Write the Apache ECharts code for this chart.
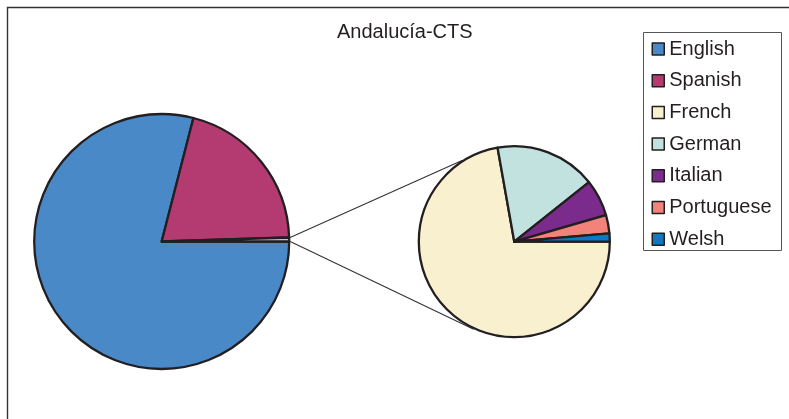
<!DOCTYPE html>
<html>
<head>
<meta charset="utf-8">
<script src="https://cdn.jsdelivr.net/npm/echarts@6/dist/echarts.min.js"></script>
<style>
html,body{margin:0;padding:0;background:#fff;}
#c{width:789px;height:419px;}
</style>
</head>
<body>
<div id="c"></div>
<script>
// ---- data (percent of all texts) ----
var titleText = 'Andalucía-CTS';
var mainNames = ['English', 'Spanish'];
var mainValues = [79.0, 20.5];
var otherNames = ['French', 'German', 'Italian', 'Portuguese', 'Welsh'];
var otherValues = [0.361, 0.0855, 0.031, 0.0155, 0.007];
var otherLabel = 'Other';

var mainColors = ['#4a89c8', '#b33b72'];
var otherSliceColor = '#b9c2e4';
var otherColors = ['#f9f0cf', '#c2e2df', '#7b2b8b', '#f3827a', '#0d7ac0'];

var FONT = 'Liberation Sans';
var INK = '#231f20';

var otherSum = otherValues.reduce(function (a, b) { return a + b; }, 0);

var mainData = mainNames.map(function (n, i) {
  return { name: n, value: mainValues[i], itemStyle: { color: mainColors[i] } };
});
mainData.push({ name: otherLabel, value: otherSum, itemStyle: { color: otherSliceColor } });

var secData = otherNames.map(function (n, i) {
  return { name: n, value: otherValues[i], itemStyle: { color: otherColors[i] } };
});

var chart = echarts.init(document.getElementById('c'), null, { renderer: 'canvas' });

var pieCommon = {
  type: 'pie',
  startAngle: 0,
  clockwise: true,
  avoidLabelOverlap: false,
  label: { show: false },
  labelLine: { show: false },
  emphasis: { disabled: true, scale: false },
  itemStyle: { borderColor: INK, borderWidth: 2.3 },
  animation: false,
  z: 5
};

chart.setOption({
  animation: false,
  textStyle: { fontFamily: FONT },
  title: {
    text: titleText,
    left: 337,
    top: 22,
    padding: 0,
    textStyle: { fontFamily: FONT, fontSize: 20, fontWeight: 'normal', color: INK, lineHeight: 20 }
  },
  legend: {
    data: mainNames.concat(otherNames),
    orient: 'vertical',
    left: 651.5,
    top: 39,
    padding: 0,
    itemWidth: 12,
    itemHeight: 12,
    itemGap: 11.7,
    icon: 'rect',
    selectedMode: false,
    itemStyle: { borderColor: INK, borderWidth: 1.5 },
    textStyle: { fontFamily: FONT, fontSize: 20, color: INK, lineHeight: 20 }
  },
  graphic: [
    { id: 'frame', type: 'rect', z: 0, silent: true,
      shape: { x: 7.5, y: 7.5, width: 900, height: 500 },
      style: { fill: 'none', stroke: '#333', lineWidth: 1.4 } },
    { id: 'legendBox', type: 'rect', z: 0, silent: true,
      shape: { x: 643.5, y: 32.5, width: 138, height: 218 },
      style: { fill: 'none', stroke: '#555', lineWidth: 1 } }
  ],
  series: [
    Object.assign({}, pieCommon, {
      name: 'main',
      center: [161.7, 241.5],
      radius: 127.5,
      data: mainData
    }),
    Object.assign({}, pieCommon, {
      name: 'secondary',
      center: [514.3, 241.7],
      radius: 95.5,
      data: secData
    })
  ]
});

// connector lines from the "Other" slice to the secondary pie, using the library's pie layout
(function () {
  var model = chart.getModel();
  var mainD = model.getSeriesByIndex(0).getData();
  var secD = model.getSeriesByIndex(1).getData();
  var oL = mainD.getItemLayout(mainData.length - 1);
  var sL = secD.getItemLayout(0);
  var rOut = oL.r + 1;
  var p1 = [oL.cx + rOut * Math.cos(oL.startAngle), oL.cy + rOut * Math.sin(oL.startAngle)];
  var p2 = [oL.cx + rOut * Math.cos(oL.endAngle), oL.cy + rOut * Math.sin(oL.endAngle)];
  var a1 = -122.8 * Math.PI / 180, a2 = 114.9 * Math.PI / 180;
  var sr = sL.r + 1;
  var q1 = [sL.cx + sr * Math.cos(a1), sL.cy + sr * Math.sin(a1)];
  var q2 = [sL.cx + sr * Math.cos(a2), sL.cy + sr * Math.sin(a2)];
  chart.setOption({
    graphic: [
      { id: 'conn1', type: 'line', z: 1, silent: true,
        shape: { x1: p1[0], y1: p1[1], x2: q1[0], y2: q1[1] },
        style: { stroke: '#333', lineWidth: 1.1 } },
      { id: 'conn2', type: 'line', z: 1, silent: true,
        shape: { x1: p2[0], y1: p2[1], x2: q2[0], y2: q2[1] },
        style: { stroke: '#333', lineWidth: 1.1 } }
    ]
  });
})();
</script>
</body>
</html>
